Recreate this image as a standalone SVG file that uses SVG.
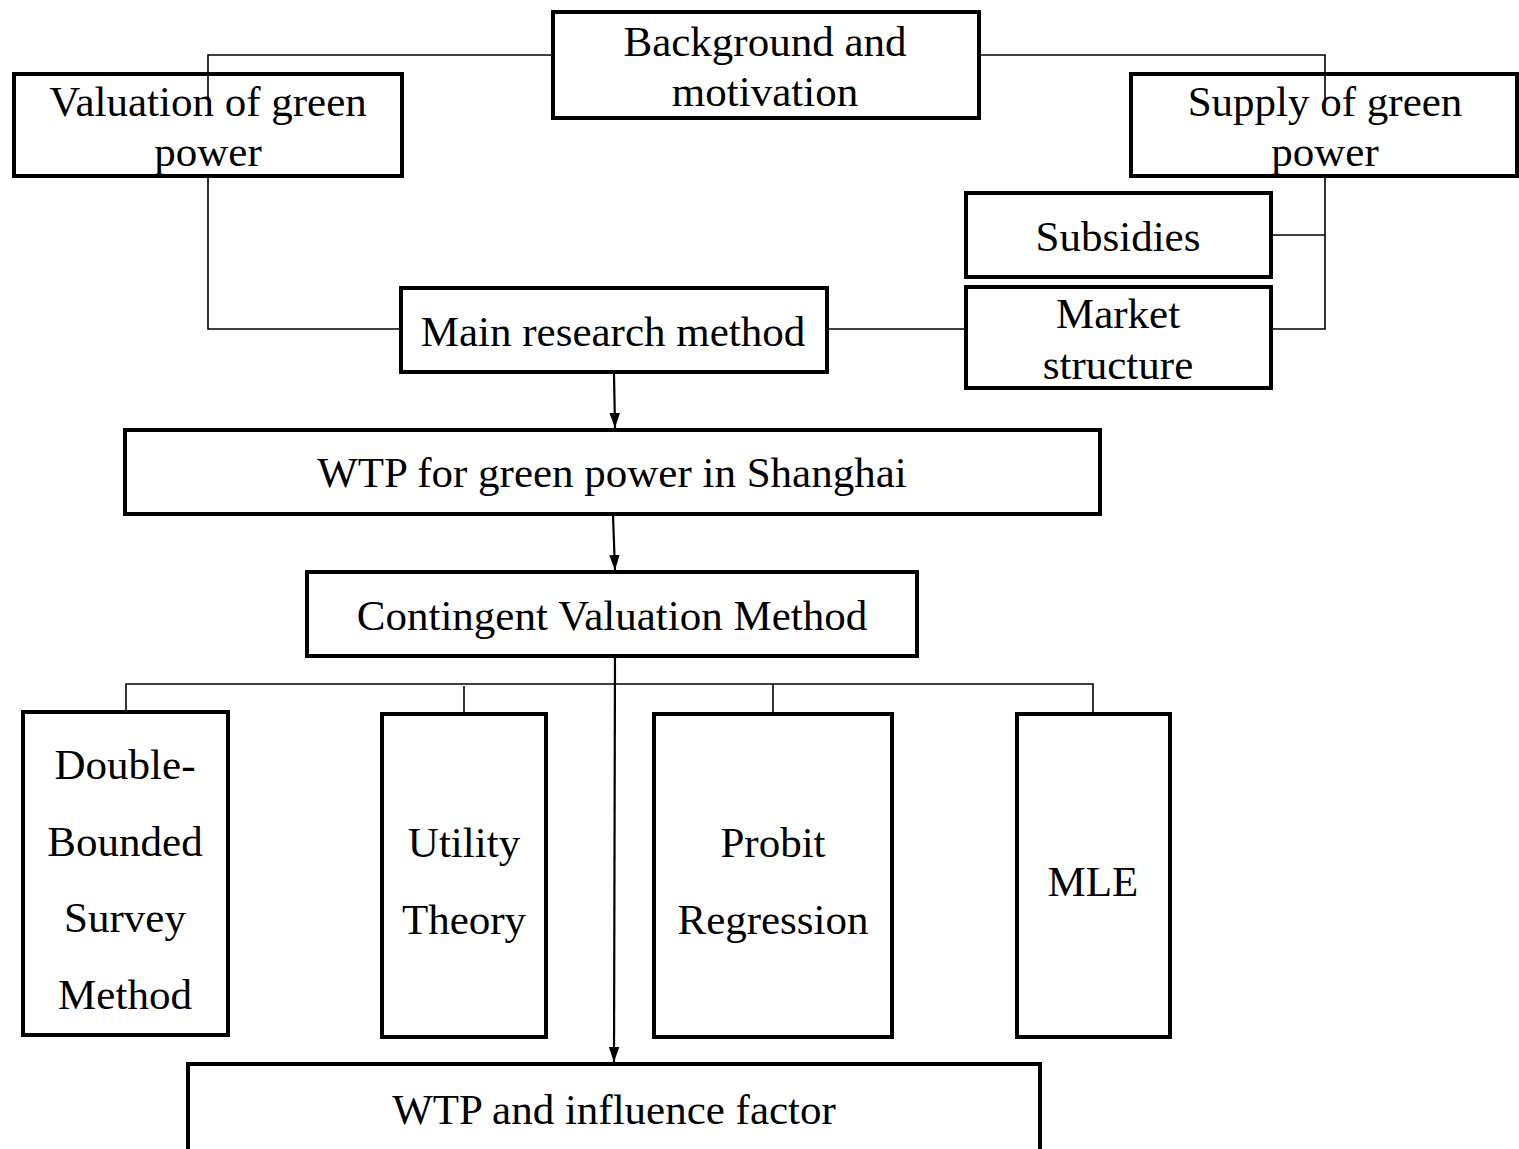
<svg xmlns="http://www.w3.org/2000/svg" width="1519" height="1149" viewBox="0 0 1519 1149">
<style>
.box{fill:none;stroke:#000;stroke-width:4}
.ln{fill:none;stroke:#000;stroke-width:1.6}
.ar{fill:none;stroke:#000;stroke-width:2.2}
text{font-family:"Liberation Serif","Times New Roman",serif;font-size:43px;fill:#000;text-anchor:middle}
</style>
<defs>
<marker id="arrh" viewBox="0 0 10 10" refX="10" refY="5" markerWidth="15" markerHeight="15" markerUnits="userSpaceOnUse" orient="auto">
<path d="M0,1.5 L10,5 L0,8.5 z" fill="#000"/>
</marker>
</defs>
<rect width="1519" height="1149" fill="#fff"/>
<g id="connectors">
<polyline class="ln" points="553,55 208,55 208,100"/>
<polyline class="ln" points="979,55 1325,55 1325,100"/>
<polyline class="ln" points="208,176 208,329 401,329"/>
<line class="ln" x1="827" y1="329" x2="966" y2="329"/>
<polyline class="ln" points="1325,176 1325,329 1271,329"/>
<line class="ln" x1="1325" y1="235" x2="1271" y2="235"/>
<line class="ar" x1="614" y1="374" x2="615" y2="428" marker-end="url(#arrh)"/>
<line class="ar" x1="613" y1="516" x2="615" y2="570" marker-end="url(#arrh)"/>
<line class="ar" x1="615" y1="658" x2="614" y2="1062" marker-end="url(#arrh)"/>
<polyline class="ln" points="126,712 126,684 1093,684 1093,714"/>
<line class="ln" x1="464" y1="686" x2="464" y2="714"/>
<line class="ln" x1="773" y1="684" x2="773" y2="714"/>
</g>
<g id="background"><rect class="box" x="553" y="12" width="426" height="106"/><text x="765" y="56">Background and</text><text x="765" y="106">motivation</text></g>
<g id="valuation"><rect class="box" x="14" y="74" width="388" height="102"/><text x="208" y="116">Valuation of green</text><text x="208" y="166">power</text></g>
<g id="supply"><rect class="box" x="1131" y="74" width="386" height="102"/><text x="1325" y="116">Supply of green</text><text x="1325" y="166">power</text></g>
<g id="subsidies"><rect class="box" x="966" y="193" width="305" height="84"/><text x="1118" y="251">Subsidies</text></g>
<g id="market"><rect class="box" x="966" y="287" width="305" height="101"/><text x="1118" y="328">Market</text><text x="1118" y="379">structure</text></g>
<g id="main"><rect class="box" x="401" y="288" width="426" height="84"/><text x="613" y="346">Main research method</text></g>
<g id="wtp"><rect class="box" x="125" y="430" width="975" height="84"/><text x="612" y="487">WTP for green power in Shanghai</text></g>
<g id="cvm"><rect class="box" x="307" y="572" width="610" height="84"/><text x="612" y="630">Contingent Valuation Method</text></g>
<g id="double"><rect class="box" x="23" y="712" width="205" height="323"/><text x="125" y="779">Double-</text><text x="125" y="856">Bounded</text><text x="125" y="932">Survey</text><text x="125" y="1009">Method</text></g>
<g id="utility"><rect class="box" x="382" y="714" width="164" height="323"/><text x="464" y="857">Utility</text><text x="464" y="934">Theory</text></g>
<g id="probit"><rect class="box" x="654" y="714" width="238" height="323"/><text x="773" y="857">Probit</text><text x="773" y="934">Regression</text></g>
<g id="mle"><rect class="box" x="1017" y="714" width="153" height="323"/><text x="1093" y="896">MLE</text></g>
<g id="influence"><rect class="box" x="188" y="1064" width="852" height="90"/><text x="614" y="1124">WTP and influence factor</text></g>
</svg>
